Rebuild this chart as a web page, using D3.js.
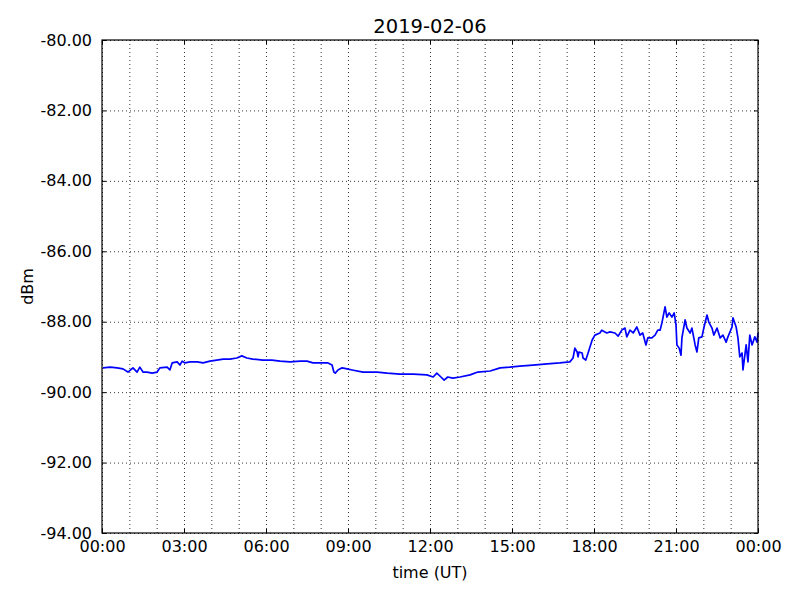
<!DOCTYPE html>
<html>
<head>
  <meta charset="utf-8">
  <title>2019-02-06</title>
  <script src="https://cdn.jsdelivr.net/npm/d3@7"></script>
  <style>
  body {
    margin: 0;
    background: #fff;
    font-family: "DejaVu Sans";
  }
  .grid line {
    stroke: #000;
    stroke-width: 0.8;
    stroke-dasharray: 1,3;
  }
  .grid path { display: none; }
  .ax path { display: none; }
  .ax line { stroke: #000; }
  .ax text {
    font-family: "DejaVu Sans";
    font-size: 16px;
    fill: #000;
  }
  </style>
</head>
<body>
<svg id="chart"></svg>
<script>
const WIDTH = 800
const HEIGHT = 600
const MARGIN = { left: 102, top: 40, right: 42, bottom: 67 }
const CHART_WIDTH = WIDTH - MARGIN.left - MARGIN.right
const CHART_HEIGHT = HEIGHT - MARGIN.top - MARGIN.bottom

const DAY = "2019-02-06"
const Y_TICKS = [-94, -92, -90, -88, -86, -84, -82, -80]

// minutes after 00:00 UT
const minutes = [
  2, 18, 33, 46, 57, 68, 77, 83, 90, 99, 110, 121, 127, 143, 149, 154, 165, 171, 176, 182,
  193, 209, 222, 237, 252, 266, 281, 296, 307, 318, 331, 353, 373, 391, 413, 435, 450, 463, 485, 496,
  505, 509, 512, 518, 527, 538, 549, 573, 604, 626, 654, 683, 713, 727, 735, 744, 751, 759, 770, 786,
  808, 825, 852, 874, 895, 917, 946, 977, 1005, 1027, 1034, 1038, 1043, 1045, 1047, 1054, 1056, 1062, 1067, 1076,
  1082, 1093, 1097, 1108, 1115, 1126, 1133, 1141, 1148, 1152, 1159, 1166, 1174, 1181, 1187, 1194, 1198, 1207, 1214, 1220,
  1225, 1229, 1236, 1240, 1245, 1251, 1256, 1260, 1262, 1267, 1271, 1273, 1280, 1284, 1291, 1295, 1302, 1306, 1310, 1317,
  1321, 1328, 1332, 1339, 1343, 1350, 1357, 1363, 1370, 1374, 1383, 1385, 1392, 1396, 1400, 1405, 1407, 1414, 1418, 1422,
  1427, 1433, 1438, 1440
]
// received power in dBm
const dbm = [
  -89.31, -89.29, -89.31, -89.34, -89.43, -89.31, -89.43, -89.29, -89.43, -89.43, -89.46, -89.43, -89.31, -89.29, -89.37, -89.17, -89.14, -89.23, -89.12, -89.17,
  -89.14, -89.14, -89.17, -89.12, -89.09, -89.06, -89.06, -89.03, -88.97, -89.03, -89.06, -89.09, -89.09, -89.12, -89.14, -89.12, -89.12, -89.17, -89.17, -89.17,
  -89.23, -89.43, -89.46, -89.37, -89.31, -89.34, -89.37, -89.43, -89.43, -89.46, -89.49, -89.49, -89.51, -89.57, -89.46, -89.57, -89.66, -89.57, -89.60, -89.57,
  -89.51, -89.43, -89.40, -89.31, -89.29, -89.26, -89.23, -89.20, -89.17, -89.14, -89.03, -88.75, -88.86, -89.00, -88.86, -88.89, -89.03, -89.09, -88.89, -88.52,
  -88.38, -88.32, -88.24, -88.32, -88.29, -88.32, -88.41, -88.24, -88.18, -88.43, -88.24, -88.32, -88.15, -88.38, -88.32, -88.66, -88.46, -88.46, -88.38, -88.24,
  -88.24, -88.04, -87.58, -87.87, -87.75, -87.87, -87.75, -88.09, -88.66, -88.75, -88.95, -88.46, -87.95, -88.18, -88.32, -88.18, -88.66, -88.86, -88.46, -88.43,
  -88.18, -87.81, -88.01, -88.18, -88.38, -88.18, -88.46, -88.38, -88.58, -88.43, -88.15, -87.89, -88.15, -88.46, -89.00, -88.89, -89.37, -88.66, -89.14, -88.38,
  -88.66, -88.43, -88.58, -88.32
]

function main() {
  let svg = d3.select("#chart")
    .attr("width", WIDTH)
    .attr("height", HEIGHT)

  let t0 = new Date(DAY + "T00:00:00Z")
  let t1 = d3.utcDay.offset(t0, 1)
  let data = minutes.map((m, i) => ({ t: d3.utcMinute.offset(t0, m), v: dbm[i] }))

  let xScale = d3.scaleUtc().domain([t0, t1]).range([0, CHART_WIDTH])
  let yScale = d3.scaleLinear().domain([-94, -80]).range([CHART_HEIGHT, 0])

  let g = svg.append("g")
    .attr("transform", `translate(${MARGIN.left},${MARGIN.top})`)

  // grid: every hour across, every 2 dBm up
  g.append("g")
    .attr("class", "grid")
    .attr("transform", `translate(0,${CHART_HEIGHT})`)
    .call(d3.axisBottom(xScale).ticks(d3.utcHour.every(1)).tickSize(-CHART_HEIGHT).tickFormat(""))
  g.append("g")
    .attr("class", "grid")
    .call(d3.axisLeft(yScale).tickValues(Y_TICKS).tickSize(-CHART_WIDTH).tickFormat(""))

  let line = d3.line()
    .x(d => xScale(d.t))
    .y(d => yScale(d.v))

  g.append("path")
    .datum(data)
    .attr("fill", "none")
    .attr("stroke", "#0000ff")
    .attr("stroke-width", 1.7)
    .attr("stroke-linejoin", "round")
    .attr("d", line)

  let fmt = d3.utcFormat("%H:%M")
  // plain hyphen for the minus, as in the original
  let yFmt = v => d3.format(".2f")(v).replace("\u2212", "-")

  // ticks point inward on all four sides
  let xAxis = d3.axisBottom(xScale)
    .ticks(d3.utcHour.every(3))
    .tickFormat(fmt)
    .tickSizeInner(-4)
    .tickPadding(8)
  g.append("g")
    .attr("class", "ax")
    .attr("transform", `translate(0,${CHART_HEIGHT})`)
    .call(xAxis)
    .selectAll("text")
    .attr("dy", "0.71em")

  g.append("g")
    .attr("class", "ax")
    .call(d3.axisTop(xScale).ticks(d3.utcHour.every(3)).tickSizeInner(-4).tickFormat(""))

  g.append("g")
    .attr("class", "ax")
    .call(d3.axisLeft(yScale).tickValues(Y_TICKS).tickFormat(yFmt).tickSizeInner(-4).tickPadding(10))

  g.append("g")
    .attr("class", "ax")
    .attr("transform", `translate(${CHART_WIDTH},0)`)
    .call(d3.axisRight(yScale).tickValues(Y_TICKS).tickSizeInner(-4).tickFormat(""))

  g.append("rect")
    .attr("width", CHART_WIDTH)
    .attr("height", CHART_HEIGHT)
    .attr("fill", "none")
    .attr("stroke", "#000")
    .attr("stroke-width", 1.2)

  svg.append("text")
    .attr("x", MARGIN.left + CHART_WIDTH / 2)
    .attr("y", 33)
    .attr("text-anchor", "middle")
    .attr("font-size", "19.5px")
    .text(DAY)

  svg.append("text")
    .attr("x", MARGIN.left + CHART_WIDTH / 2)
    .attr("y", 578)
    .attr("text-anchor", "middle")
    .attr("font-size", "16px")
    .text("time (UT)")

  svg.append("text")
    .attr("transform", `translate(33,${MARGIN.top + CHART_HEIGHT / 2}) rotate(-90)`)
    .attr("text-anchor", "middle")
    .attr("font-size", "16px")
    .text("dBm")
}

main()
</script>
</body>
</html>
